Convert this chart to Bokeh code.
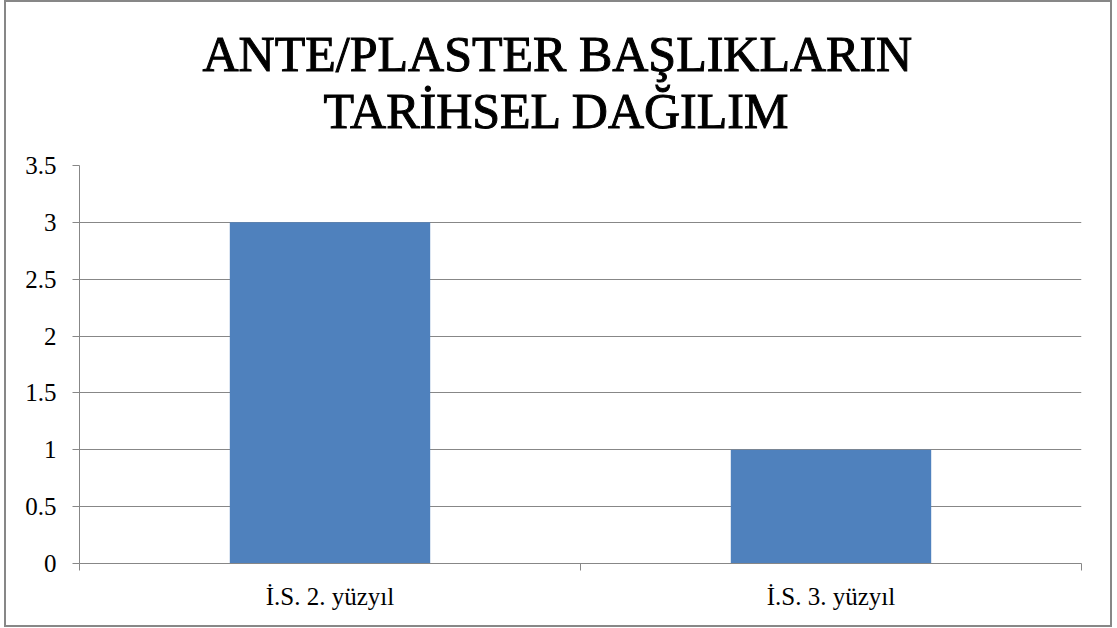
from bokeh.plotting import figure
from bokeh.models import (Title, Range1d, LinearAxis, FixedTicker,
                          SingleIntervalTicker, NumeralTickFormatter, ColumnDataSource)
from bokeh.embed import file_html
from bokeh.resources import INLINE

title_lines = ["ANTE/PLASTER BAŞLIKLARIN", "TARİHSEL DAĞILIM"]
categories = ["İ.S. 2. yüzyıl", "İ.S. 3. yüzyıl"]
values = [3, 1]
y_max = 3.5
y_step = 0.5

GRAY = "#878787"
FONT = "Liberation Serif"

n = len(categories)
centers = [i + 0.5 for i in range(n)]
edges = list(range(n + 1))
src = ColumnDataSource(dict(x=centers, top=values, cat=categories))

p = figure(width=1108, height=627, output_backend="svg", toolbar_location=None,
           x_range=Range1d(0, n), y_range=Range1d(0, y_max),
           x_axis_type=None,
           min_border_left=73, min_border_right=33, min_border_bottom=66,
           min_border_top=163)
p.title = None
p.outline_line_color = None
p.styles = {"border": f"2px solid {GRAY}", "margin-left": "4px"}

# two title lines, stacked above the frame (line 2 first = nearest the frame)
for line, off, so in [(title_lines[1], 244, 53), (title_lines[0], 123, -55)]:
    p.add_layout(Title(text=line, align="left", offset=off, standoff=so,
                       text_font=FONT, text_font_size="50px",
                       text_font_style="normal", text_color="black",
                       text_outline_color="black"), "above")

p.vbar(x="x", top="top", width=0.4, source=src, color="#4F81BD", line_color=None)

# y axis
p.yaxis.ticker = SingleIntervalTicker(interval=y_step)
p.yaxis.formatter = NumeralTickFormatter(format="0.[0]")
p.yaxis.axis_line_color = GRAY
p.yaxis.major_tick_line_color = GRAY
p.yaxis.major_tick_out = 7
p.yaxis.major_tick_in = 0
p.yaxis.minor_tick_line_color = None
p.yaxis.major_label_text_font = FONT
p.yaxis.major_label_text_font_size = "25px"
p.yaxis.major_label_text_color = "black"
p.yaxis.major_label_standoff = 16

p.ygrid.grid_line_color = GRAY
p.ygrid.grid_line_width = 1

# tick marks at category boundaries
edge_axis = LinearAxis(ticker=FixedTicker(ticks=edges),
                       major_label_overrides={e: "" for e in edges},
                       major_label_standoff=0,
                       axis_line_color=GRAY, major_tick_line_color=GRAY,
                       major_tick_out=7, major_tick_in=0,
                       minor_tick_line_color=None)
p.add_layout(edge_axis, "below")

# category labels
label_axis = LinearAxis(ticker=FixedTicker(ticks=centers),
                        major_label_overrides={c: t for c, t in zip(centers, categories)},
                        axis_line_color=None, major_tick_line_color=None,
                        minor_tick_line_color=None,
                        major_label_text_font=FONT, major_label_text_font_size="25px",
                        major_label_text_color="black", major_label_standoff=6)
p.add_layout(label_axis, "below")

open("out.html", "w").write(file_html(p, INLINE))
